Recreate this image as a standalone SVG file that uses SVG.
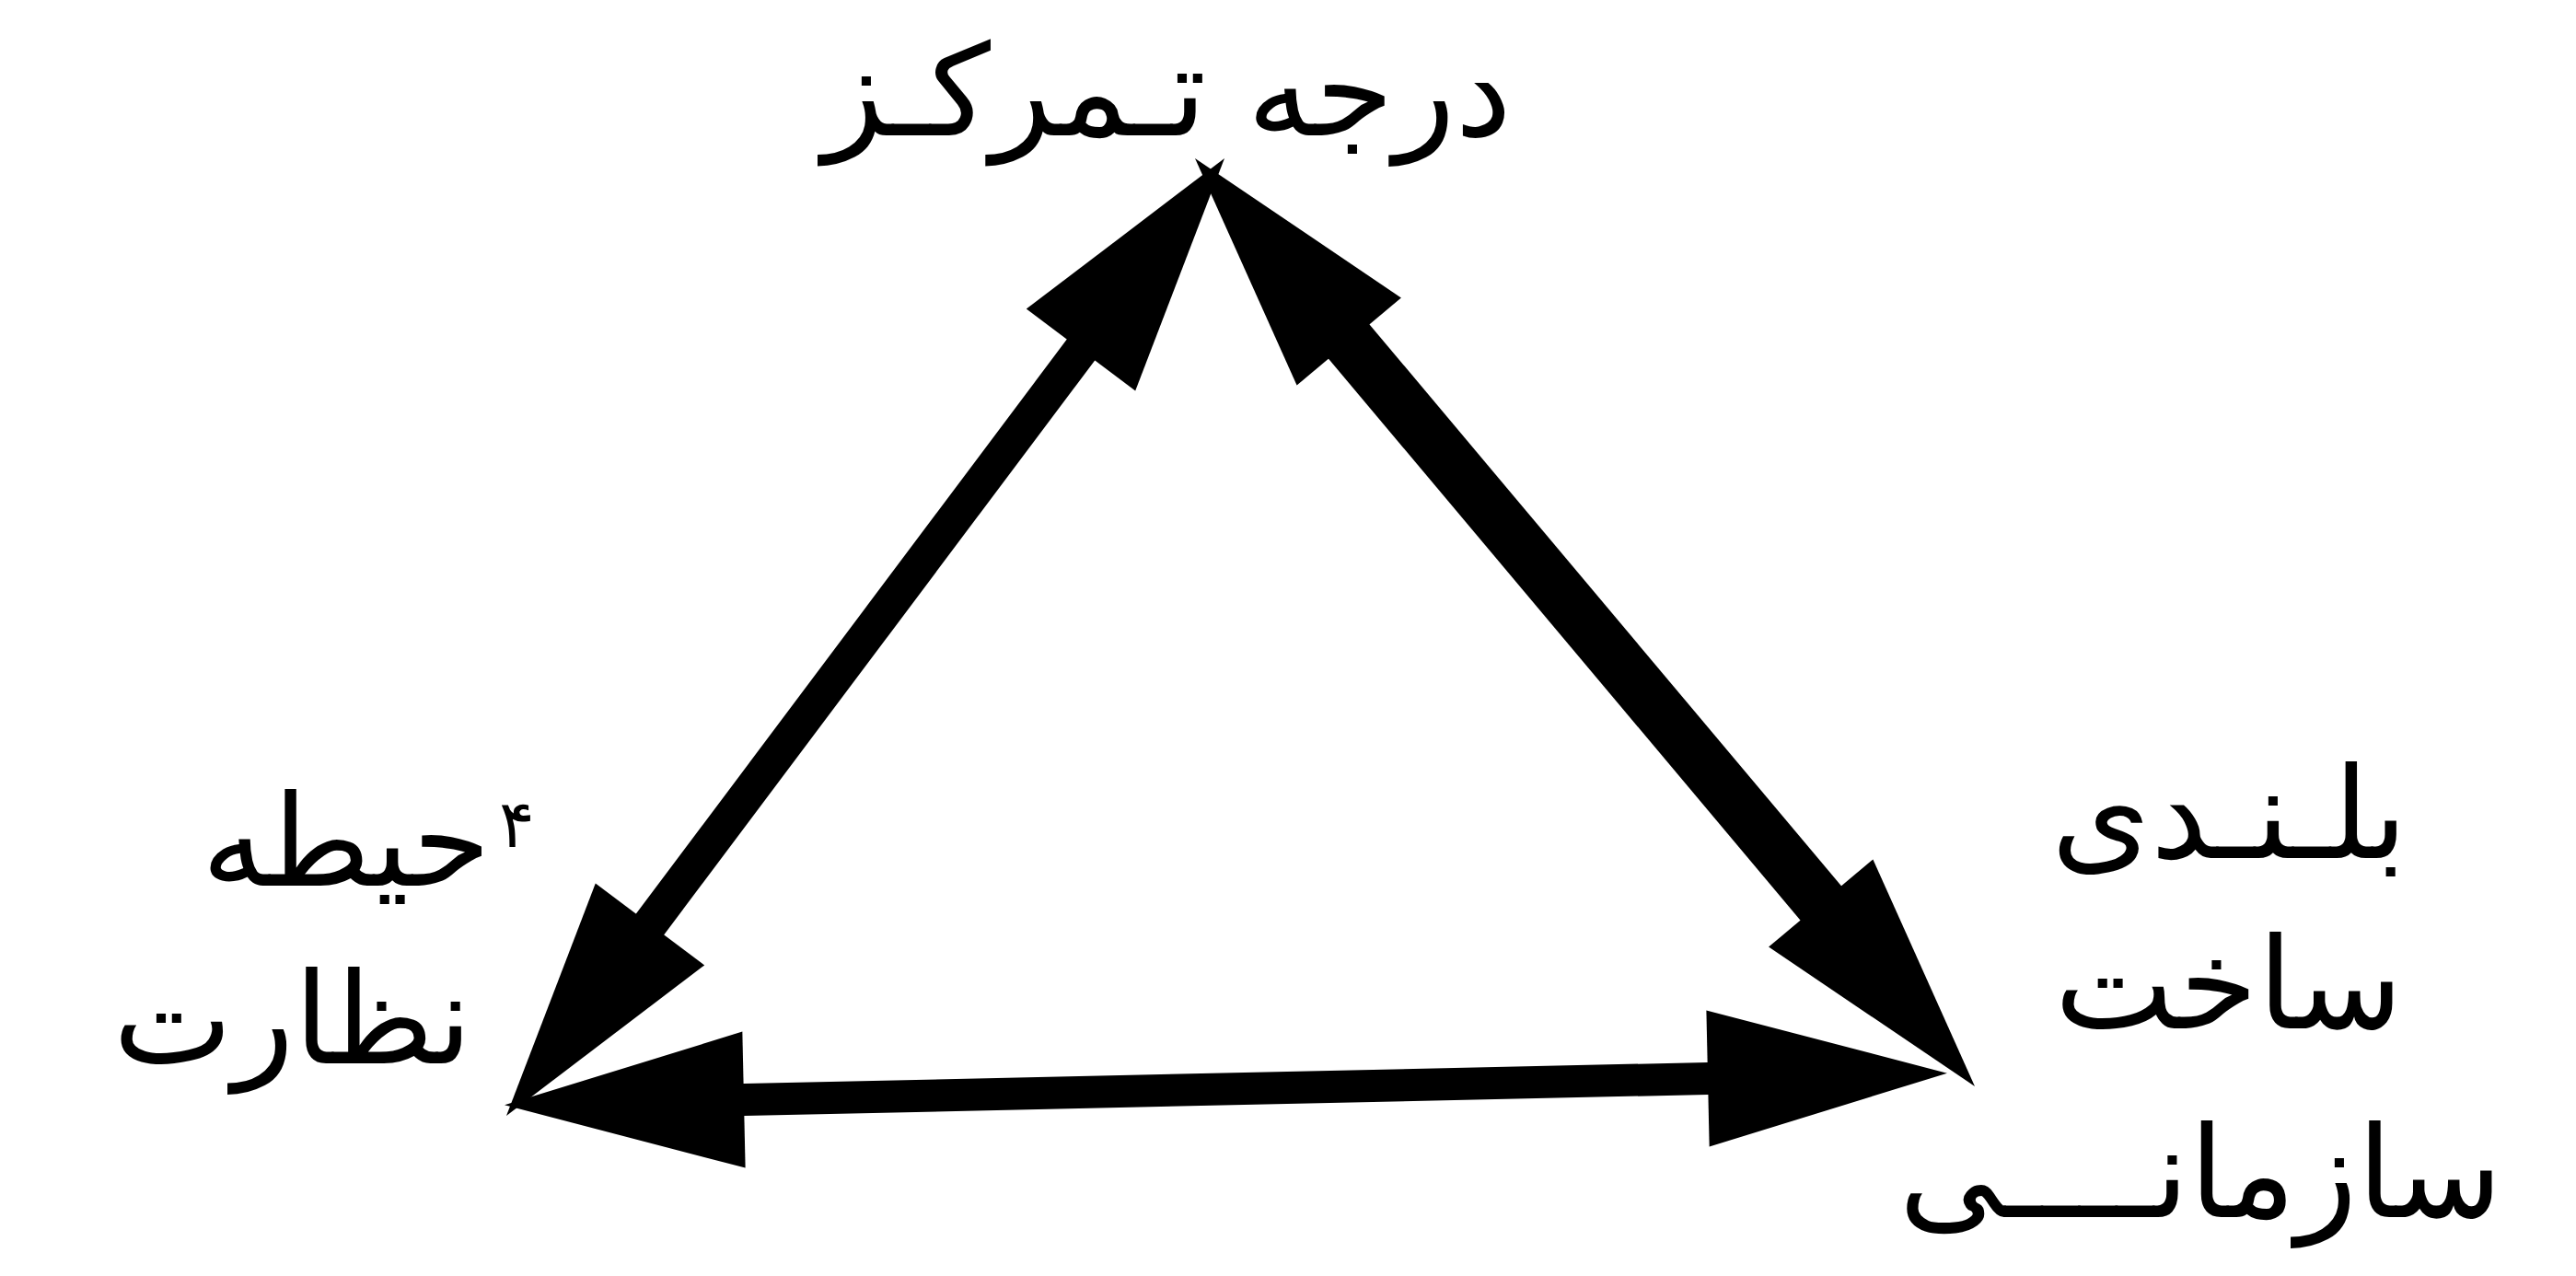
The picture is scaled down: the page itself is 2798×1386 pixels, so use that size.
<svg xmlns="http://www.w3.org/2000/svg" width="2798" height="1386" viewBox="0 0 2798 1386">
<style>
  .lbl { font-family: "DejaVu Sans", "Noto Sans", sans-serif; font-size: 138px; fill: #000; text-anchor: end; }
  .sup { font-family: "DejaVu Sans", "Noto Sans", sans-serif; font-size: 72px; fill: #000; }
  .edge { stroke: #000; fill: none; stroke-linecap: butt; marker-start: url(#head); marker-end: url(#head); }
</style>
<defs>
  <marker id="head" markerUnits="userSpaceOnUse" orient="auto-start-reverse" viewBox="-300 -100 400 200" markerWidth="400" markerHeight="200" refX="-150" refY="0" overflow="visible">
    <path d="M0,0 L-260,-74 L-260,74 Z" fill="#000"/>
  </marker>
</defs>
<rect width="2798" height="1386" fill="#fff"/>
<g id="connectors">
  <line id="e-left" class="edge" stroke-width="38" x1="1240" y1="292" x2="640" y2="1092"/>
  <line id="e-right" class="edge" stroke-width="58" x1="1394.5" y1="286.8" x2="2048.5" y2="1065.2"/>
  <line id="e-bottom" class="edge" stroke-width="35" x1="698" y1="1197" x2="1965" y2="1169"/>
</g>
<g id="n-top">
  <text class="lbl" x="1642" y="147">درجه تـمرکـز</text>
</g>
<g id="n-left">
  <text class="lbl" x="533" y="962">حیطه</text>
  <text class="sup" x="542" y="920">۴</text>
  <text class="lbl" x="513" y="1155">نظارت</text>
</g>
<g id="n-right">
  <text class="lbl" x="2615" y="932">بلـنـدی</text>
  <text class="lbl" x="2610" y="1117">ساخت</text>
  <text class="lbl" x="2718" y="1322">سازمانــــی</text>
</g>
</svg>
